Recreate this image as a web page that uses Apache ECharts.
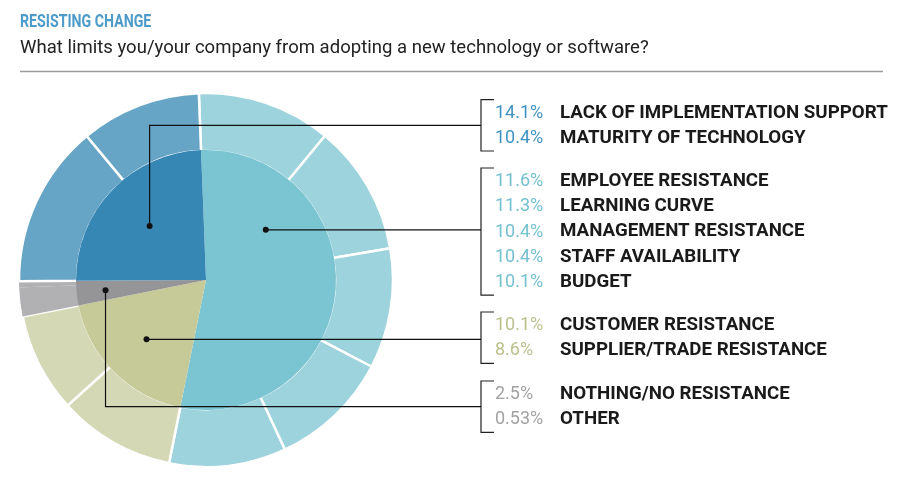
<!DOCTYPE html>
<html>
<head>
<meta charset="utf-8">
<script src="https://cdn.jsdelivr.net/npm/echarts@6/dist/echarts.min.js"></script>
<style>html,body{margin:0;padding:0;background:#fff;}#c{width:900px;height:484px;}</style>
</head>
<body>
<div id="c"></div>
<script>
// ---- data ----
const title = 'RESISTING CHANGE';
const subtitle = 'What limits you/your company from adopting a new technology or software?';

// outer ring items, clockwise from top
const itemNames = ['EMPLOYEE RESISTANCE','LEARNING CURVE','MANAGEMENT RESISTANCE','STAFF AVAILABILITY','BUDGET',
  'CUSTOMER RESISTANCE','SUPPLIER/TRADE RESISTANCE','NOTHING/NO RESISTANCE','OTHER',
  'LACK OF IMPLEMENTATION SUPPORT','MATURITY OF TECHNOLOGY'];
const itemValues = [11.6, 11.3, 10.4, 10.4, 10.1, 10.1, 8.6, 2.5, 0.53, 14.1, 10.4];
const itemLabels = ['11.6%','11.3%','10.4%','10.4%','10.1%','10.1%','8.6%','2.5%','0.53%','14.1%','10.4%'];
const itemGroup = [1,1,1,1,1,2,2,3,3,0,0];

// groups
const groupNames = ['Technology','People','Partners','Other'];
const groupInner = ['#3687b4','#7bc4d1','#c6ca99','#959598'];
const groupOuter = ['#67a5c6','#9dd3dc','#d4d8b5','#b1b1b4'];
const groupText  = ['#3f93c3','#74c1d0','#bcc08d','#a2a2a4'];
// legend order of items (indices into item arrays)
const legendOrder = [[9,10],[0,1,2,3,4],[5,6],[7,8]];

// ---- layout ----
const CX = 206, CY = 280, R0 = 130, R1 = 187, START = 92.2;
const groupStartY = [111.7, 180, 324, 393];
const ROW = 25.3;
const BRX = 481;

const groupValues = groupNames.map((g, gi) =>
  itemValues.reduce((s, v, i) => s + (itemGroup[i] === gi ? v : 0), 0));

// inner pie data in clockwise order: People, Partners, Other, Technology
const innerOrder = [1,2,3,0];
const total = itemValues.reduce((a,b)=>a+b,0);

const midAngle = {};
let a = START;
innerOrder.forEach(gi => {
  const span = groupValues[gi] / total * 360;
  midAngle[gi] = a - span/2;
  a -= span;
});
const dotSpec = {0:{ang:midAngle[0], r:78, route:'up'}, 1:{ang:40, r:78, route:'h'},
                 2:{ang:midAngle[2], r:84, route:'h'}, 3:{ang:midAngle[3], r:101, route:'down'}};

const chart = echarts.init(document.getElementById('c'), null, {renderer:'canvas'});

const graphics = [];
graphics.push({type:'text', x:20, y:22.5, scaleX:0.81, style:{text:title, fill:'#4d9bca', font:'bold 17.5px Roboto', textVerticalAlign:'middle'}});
graphics.push({type:'text', x:20, y:49, scaleX:1.06, style:{text:subtitle, fill:'#222', font:'17.5px Roboto', textVerticalAlign:'middle'}});
graphics.push({type:'line', shape:{x1:20,y1:71.5,x2:883,y2:71.5}, style:{stroke:'#9a9a9a', lineWidth:1.5}});

const TY = 1.5;
legendOrder.forEach((idxs, gi) => {
  const y0 = groupStartY[gi];
  idxs.forEach((ii, k) => {
    const y = y0 + k*ROW + TY;
    graphics.push({type:'text', x:495, y:y, style:{text:itemLabels[ii], fill:groupText[gi], font:'18px Roboto', textVerticalAlign:'middle'}});
    graphics.push({type:'text', x:560, y:y, scaleX:1.07, style:{text:itemNames[ii], fill:'#1a1a1a', font:'bold 17.5px Roboto', textVerticalAlign:'middle'}});
  });
  const top = y0 - 12, bot = y0 + (idxs.length-1)*ROW + 14;
  graphics.push({type:'polyline', shape:{points:[[494,top],[BRX,top],[BRX,bot],[494,bot]]}, style:{stroke:'#222', lineWidth:1.2, fill:null}});
  const legY = (top+bot)/2;
  const d = dotSpec[gi];
  const rad = d.ang*Math.PI/180;
  const dx = CX + d.r*Math.cos(rad), dy = CY - d.r*Math.sin(rad);
  let pts;
  if (d.route === 'h') pts = [[dx,dy],[BRX,dy]];
  else pts = [[dx,dy],[dx,legY],[BRX,legY]];
  graphics.push({type:'polyline', z:10, shape:{points:pts}, style:{stroke:'#111', lineWidth:1.2, fill:null}});
  graphics.push({type:'circle', z:11, shape:{cx:dx, cy:dy, r:3}, style:{fill:'#111'}});
});

const innerData = innerOrder.map(gi => ({name:groupNames[gi], value:groupValues[gi], itemStyle:{color:groupInner[gi]}}));
const outerData = itemValues.map((v,i) => ({name:itemNames[i], value:v,
  itemStyle:{color:groupOuter[itemGroup[i]], borderColor:'#fff', borderWidth:itemGroup[i]===3?0:2.5}}));

chart.setOption({
  animation:false,
  graphic: graphics,
  series: [
    {type:'pie', center:[CX,CY], radius:[R0-1,R1], startAngle:START, clockwise:true, silent:true,
     label:{show:false}, labelLine:{show:false}, data:outerData, z:1},
    {type:'pie', center:[CX,CY], radius:[0,R0], startAngle:START, clockwise:true, silent:true,
     label:{show:false}, labelLine:{show:false}, data:innerData, z:2}
  ]
});
</script>
</body>
</html>
